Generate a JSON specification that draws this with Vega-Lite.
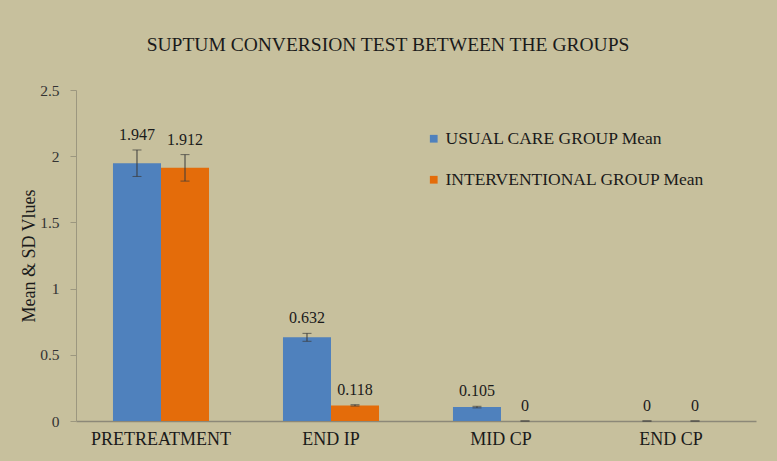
{
  "$schema": "https://vega.github.io/schema/vega-lite/v6.json",
  "autosize": {"type": "none"},
  "width": 680,
  "height": 331,
  "padding": {"left": 76, "top": 90, "right": 21, "bottom": 40},
  "background": "#C7C09D",
  "config": {
    "view": {"stroke": null},
    "font": "Liberation Serif"
  },
  "title": {
    "text": "SUPTUM CONVERSION TEST BETWEEN THE GROUPS",
    "font": "Liberation Serif",
    "fontSize": 19.5,
    "fontWeight": "normal",
    "color": "#1a1a1a",
    "anchor": "middle",
    "dx": -28,
    "offset": 28
  },
  "data": {
    "values": [
      {"stage": "PRETREATMENT", "series": "USUAL CARE GROUP Mean", "mean": 1.947, "sd": 0.1},
      {"stage": "PRETREATMENT", "series": "INTERVENTIONAL GROUP Mean", "mean": 1.912, "sd": 0.1},
      {"stage": "END IP", "series": "USUAL CARE GROUP Mean", "mean": 0.632, "sd": 0.03},
      {"stage": "END IP", "series": "INTERVENTIONAL GROUP Mean", "mean": 0.118, "sd": 0.005},
      {"stage": "MID CP", "series": "USUAL CARE GROUP Mean", "mean": 0.105, "sd": 0.006},
      {"stage": "MID CP", "series": "INTERVENTIONAL GROUP Mean", "mean": 0, "sd": 0},
      {"stage": "END CP", "series": "USUAL CARE GROUP Mean", "mean": 0, "sd": 0},
      {"stage": "END CP", "series": "INTERVENTIONAL GROUP Mean", "mean": 0, "sd": 0}
    ]
  },
  "transform": [
    {"calculate": "datum.mean + datum.sd", "as": "hi"},
    {"calculate": "datum.mean - datum.sd", "as": "lo"}
  ],
  "encoding": {
    "x": {
      "field": "stage",
      "type": "nominal",
      "sort": ["PRETREATMENT", "END IP", "MID CP", "END CP"],
      "scale": {"paddingInner": 0.435, "paddingOuter": 0.2175},
      "axis": {
        "title": null,
        "labelAngle": 0,
        "labelFont": "Liberation Serif",
        "labelFontSize": 18,
        "labelColor": "#1a1a1a",
        "ticks": false,
        "labelPadding": 9,
        "domainColor": "#8c8878",
        "domainWidth": 1.5
      }
    },
    "xOffset": {
      "field": "series",
      "type": "nominal",
      "sort": ["USUAL CARE GROUP Mean", "INTERVENTIONAL GROUP Mean"],
      "scale": {"paddingInner": 0, "paddingOuter": 0}
    }
  },
  "layer": [
    {
      "mark": {"type": "bar"},
      "encoding": {
        "y": {
          "field": "mean",
          "type": "quantitative",
          "scale": {"domain": [0, 2.5], "nice": false, "zero": true},
          "axis": {
            "title": "Mean & SD Vlues",
            "titleFont": "Liberation Serif",
            "titleFontSize": 18,
            "titleFontWeight": "normal",
            "titleColor": "#1a1a1a",
            "titlePadding": 1,
            "values": [0, 0.5, 1, 1.5, 2, 2.5],
            "format": "~g",
            "labelFont": "Liberation Serif",
            "labelFontSize": 15.5,
            "labelColor": "#333333",
            "labelPadding": 11,
            "grid": false,
            "domainColor": "#9c977f",
            "tickColor": "#9c977f",
            "tickSize": 6
          }
        },
        "color": {
          "field": "series",
          "type": "nominal",
          "sort": ["USUAL CARE GROUP Mean", "INTERVENTIONAL GROUP Mean"],
          "scale": {"range": ["#4F81BD", "#E46C0A"]},
          "legend": {
            "title": null,
            "orient": "none",
            "legendX": 349,
            "legendY": 40,
            "symbolType": "square",
            "symbolSize": 60,
            "symbolStrokeWidth": 0,
            "labelFont": "Liberation Serif",
            "labelFontSize": 17.5,
            "labelColor": "#1a1a1a",
            "labelLimit": 400,
            "labelOffset": 3,
            "rowPadding": 22
          }
        }
      }
    },
    {
      "mark": {"type": "rule", "color": "#3a3a3a", "strokeWidth": 1},
      "encoding": {
        "y": {"field": "lo", "type": "quantitative"},
        "y2": {"field": "hi"}
      }
    },
    {
      "mark": {"type": "tick", "color": "#3a3a3a", "size": 9, "thickness": 1},
      "encoding": {
        "y": {"field": "hi", "type": "quantitative"}
      }
    },
    {
      "mark": {"type": "tick", "color": "#3a3a3a", "size": 9, "thickness": 1},
      "encoding": {
        "y": {"field": "lo", "type": "quantitative"}
      }
    },
    {
      "mark": {"type": "text", "font": "Liberation Serif", "fontSize": 16, "color": "#1a1a1a", "baseline": "bottom", "dy": -7},
      "encoding": {
        "y": {"field": "hi", "type": "quantitative"},
        "text": {"field": "mean", "type": "quantitative"}
      }
    }
  ]
}
